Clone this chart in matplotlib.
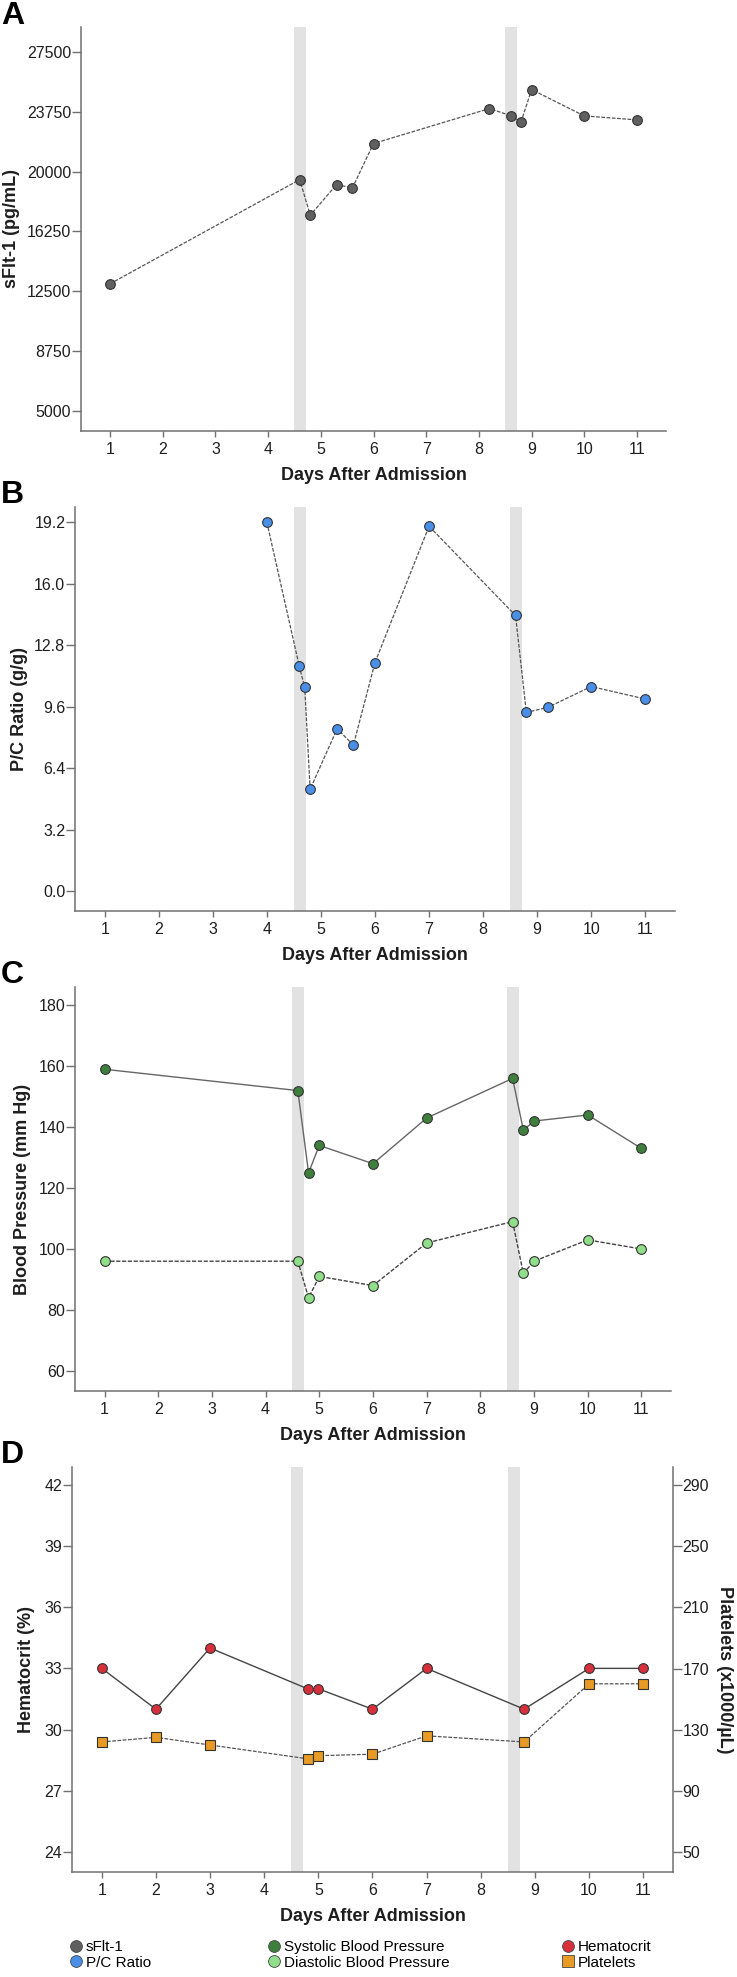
import matplotlib
matplotlib.use("Agg")
import matplotlib.pyplot as plt
from matplotlib.lines import Line2D

# ---- data ----
sflt_days = [1, 4.6, 4.8, 5.3, 5.6, 6, 8.2, 8.6, 8.8, 9, 10, 11]
sflt_vals = [12970, 19500, 17270, 19190, 18980, 21760, 23950, 23510, 23120, 25140, 23490, 23240]

pc_days = [4, 4.6, 4.7, 4.8, 5.3, 5.6, 6, 7, 8.6, 8.8, 9.2, 10, 11]
pc_vals = [19.2, 11.7, 10.6, 5.3, 8.45, 7.6, 11.9, 19.0, 14.35, 9.3, 9.57, 10.65, 10.0]

bp_days = [1, 4.6, 4.8, 5, 6, 7, 8.6, 8.8, 9, 10, 11]
systolic = [159, 152, 125, 134, 128, 143, 156, 139, 142, 144, 133]
diastolic = [96, 96, 84, 91, 88, 102, 109, 92, 96, 103, 100]

hct_days = [1, 2, 3, 4.8, 5, 6, 7, 8.8, 10, 11]
hematocrit = [33, 31, 34, 32, 32, 31, 33, 31, 33, 33]
platelets = [122, 125, 120, 111, 113, 114, 126, 122, 160, 160]

days_ticks = list(range(1, 12))
sflt_ticks = [5000, 8750, 12500, 16250, 20000, 23750, 27500]
pc_ticks = [0.0, 3.2, 6.4, 9.6, 12.8, 16.0, 19.2]
bp_ticks = [60, 80, 100, 120, 140, 160, 180]
hct_ticks = [24, 27, 30, 33, 36, 39, 42]
plt_ticks = [50, 90, 130, 170, 210, 250, 290]
bands = [(4.5, 4.72), (8.5, 8.72)]

sans = "Liberation Sans"
plt.rcParams["font.family"] = [sans, "DejaVu Sans"]

W, H = 737, 1977
fig = plt.figure(figsize=(W / 100, H / 100), dpi=100)
AX = "#707070"
TXT = "#1e1e1e"


def make_ax(left, right, top, bottom):
    return fig.add_axes([left / W, 1 - bottom / H, (right - left) / W, (bottom - top) / H])


def style(ax, yticks, ylim, ylabel, ylab_x, fmt=None):
    ax.set_xlim(0.45, 11.55)
    ax.set_ylim(*ylim)
    ax.set_xticks(days_ticks)
    ax.set_yticks(yticks)
    if fmt:
        ax.set_yticklabels([fmt.format(v) for v in yticks])
    for s in ["top", "right"]:
        ax.spines[s].set_visible(False)
    for s in ["left", "bottom"]:
        ax.spines[s].set_color(AX)
        ax.spines[s].set_linewidth(1.1)
    ax.tick_params(axis="both", colors=AX, width=1.0, labelcolor=TXT, labelsize=11.5)
    ax.tick_params(axis="y", length=6.5, pad=0.5)
    ax.tick_params(axis="x", length=4, pad=4)
    ax.set_xlabel("Days After Admission", fontsize=13, fontweight="bold", color=TXT)
    ax.xaxis.set_label_coords(0.5, -0.09)
    ax.set_ylabel(ylabel, fontsize=13, fontweight="bold", color=TXT)
    ax.yaxis.set_label_coords(ylab_x, 0.5)
    for a, b in bands:
        ax.axvspan(a, b, color="#e2e2e2", lw=0, zorder=0)


def letter(txt, y):
    fig.text(1 / W, 1 - y / H, txt, fontsize=23, fontweight="bold",
             va="top", ha="left", color="#000000")


mk = dict(markersize=7, markeredgecolor="#333333", markeredgewidth=0.8)

# ---- A ----
axA = make_ax(81, 666, 27, 431)
style(axA, sflt_ticks, (3750, 29060), "sFlt-1 (pg/mL)", -0.104)
axA.plot(sflt_days, sflt_vals, ls="--", dashes=(3, 1.2), color="#555555", lw=0.9,
         marker="o", markerfacecolor="#606060", **mk)
letter("A", 1)

# ---- B ----
axB = make_ax(75, 675, 507, 911)
style(axB, pc_ticks, (-1.04, 20.0), "P/C Ratio (g/g)", -0.078, "{:.1f}")
axB.plot(pc_days, pc_vals, ls="--", dashes=(3, 1.2), color="#555555", lw=0.9,
         marker="o", markerfacecolor="#4a8fe7", **mk)
letter("B", 480)

# ---- C ----
axC = make_ax(75, 671, 987, 1391)
style(axC, bp_ticks, (53.4, 186), "Blood Pressure (mm Hg)", -0.074)
axC.plot(bp_days, systolic, ls="-", color="#666666", lw=1.0,
         marker="o", markerfacecolor="#3e7f3e", **mk)
axC.plot(bp_days, diastolic, ls="--", dashes=(3, 1.2), color="#444444", lw=1.0,
         marker="o", markerfacecolor="#90dd8a", **mk)
letter("C", 960)

# ---- D ----
axD = make_ax(72, 673, 1467, 1872)
style(axD, hct_ticks, (23.02, 42.87), "Hematocrit (%)", -0.062)
axD.plot(hct_days, hematocrit, ls="-", color="#444444", lw=1.0,
         marker="o", markerfacecolor="#d8303a", **mk)
axD2 = axD.twinx()
axD2.set_ylim(37.0, 301.7)
axD2.set_yticks(plt_ticks)
for s in ["top", "left", "bottom"]:
    axD2.spines[s].set_visible(False)
axD2.spines["right"].set_color(AX)
axD2.spines["right"].set_linewidth(1.1)
axD2.tick_params(axis="y", colors=AX, length=6.5, width=1.0,
                 labelcolor=TXT, labelsize=11.5, pad=0.5)
axD2.set_ylabel("Platelets (x1000/µL)", rotation=270, fontsize=13, fontweight="bold",
                color=TXT)
axD2.yaxis.set_label_coords(1.1, 0.5)
axD2.plot(hct_days, platelets, ls="--", dashes=(3, 1.2), color="#555555", lw=0.9,
          marker="s", markerfacecolor="#e79a24", **mk)
letter("D", 1440)

# ---- legend (three columns) ----
cols = [
    (79, [("sFlt-1", "o", "#606060"), ("P/C Ratio", "o", "#4a8fe7")]),
    (277, [("Systolic Blood Pressure", "o", "#3e7f3e"), ("Diastolic Blood Pressure", "o", "#90dd8a")]),
    (571, [("Hematocrit", "o", "#d8303a"), ("Platelets", "s", "#e79a24")]),
]
for x, entries in cols:
    handles = [Line2D([], [], ls="none", marker=m, markerfacecolor=c, markersize=8.5,
                      markeredgecolor="#444444", markeredgewidth=0.6) for _, m, c in entries]
    fig.legend(handles, [e[0] for e in entries], loc="upper left",
               bbox_to_anchor=((x - 8) / W, 1 - 1940 / H), frameon=False,
               handlelength=0.6, handletextpad=0.35, labelspacing=0.1,
               borderpad=0, borderaxespad=0,
               prop={"size": 11})

fig.savefig("out.png", dpi=100)
